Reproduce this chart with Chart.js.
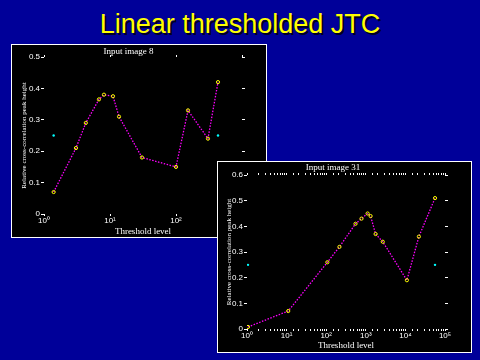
<!DOCTYPE html>
<html>
<head>
<meta charset="utf-8">
<script src="https://cdn.jsdelivr.net/npm/chart.js@4"></script>
<style>
  body { margin: 0; width: 480px; height: 360px; background: #000099; overflow: hidden; position: relative; font-family: "Liberation Sans", Arial, sans-serif; }
  #head { position: absolute; left: 0; top: 8px; width: 480px; text-align: center; color: #ffff00; font-size: 27px; line-height: 32px; text-shadow: 2px 2px 0 #000022; }
  .box { position: absolute; background: #000; border: 1px solid #fff; }
  #b1 { left: 11px; top: 44px; width: 254px; height: 192px; }
  #b2 { left: 217px; top: 161px; width: 253px; height: 190px; }
</style>
</head>
<body>
<div id="head">Linear thresholded JTC</div>
<div class="box" id="b1"><canvas id="chart8"></canvas></div>
<div class="box" id="b2"><canvas id="chart31"></canvas></div>
<script>
// input image 8
const thr8  = [1.4, 3.05, 4.3, 6.8, 8.1, 11.1, 13.7, 30.5, 100, 152, 305, 433];
const peak8 = [0.07, 0.21, 0.29, 0.365, 0.38, 0.375, 0.31, 0.18, 0.15, 0.33, 0.24, 0.42];
const ref8X = [1.4, 433];
const ref8Y = [0.25, 0.25];

// input image 31
const thr31  = [1.06, 11, 107, 216, 550, 780, 1110, 1320, 1770, 2680, 10900, 21900, 56000];
const peak31 = [0.008, 0.07, 0.26, 0.32, 0.41, 0.43, 0.45, 0.44, 0.37, 0.34, 0.19, 0.36, 0.51];
const ref31X = [1.06, 56000];
const ref31Y = [0.25, 0.25];

const supDigits = ['⁰','¹','²','³','⁴','⁵','⁶','⁷','⁸','⁹'];

function isDecade(v) {
  const l = Math.log10(v);
  return Math.abs(l - Math.round(l)) < 1e-9;
}
function decadeLabel(v) {
  if (!isDecade(v)) return '';
  return '10' + String(Math.round(Math.log10(v))).split('').map(d => supDigits[d]).join('');
}
function pts(xs, ys) {
  return xs.map((x, i) => ({x: x, y: ys[i]}));
}

const tickFont = {family: 'Liberation Sans', size: 8};
const labelFont = {family: 'Liberation Serif', size: 9, lineHeight: 1, weight: 'normal'};

function makeChart(id, title, xs, ys, rx, ry, o) {
  return new Chart(document.getElementById(id), {
    type: 'scatter',
    data: {
      datasets: [
        {
          data: pts(xs, ys),
          showLine: true,
          borderColor: '#ff00ff',
          borderWidth: 1.3,
          borderDash: [1.5, 1.5],
          pointRadius: 1.6,
          pointBorderWidth: 1,
          pointBorderColor: '#ffff00',
          pointBackgroundColor: 'rgba(0,0,0,0)',
        },
        {
          data: pts(rx, ry),
          showLine: false,
          pointRadius: 1.2,
          pointBorderWidth: 0,
          pointBackgroundColor: '#00ffff',
        }
      ]
    },
    options: {
      responsive: true,
      maintainAspectRatio: false,
      animation: false,
      layout: {padding: {top: o.padTop, right: o.padRight, left: 0, bottom: 0}},
      plugins: {
        legend: {display: false},
        tooltip: {enabled: false},
        title: {
          display: true,
          text: title,
          color: '#fff',
          font: labelFont,
          padding: {top: 0, bottom: 0}
        }
      },
      scales: {
        x: {
          type: 'logarithmic',
          position: 'bottom',
          min: o.xMin,
          max: o.xMax,
          ticks: {color: '#fff', font: tickFont, autoSkip: false, maxRotation: 0, padding: 0, callback: v => decadeLabel(v)},
          grid: {drawOnChartArea: false, tickLength: 2, tickColor: c => (o.minor || (c.tick && isDecade(c.tick.value))) ? '#fff' : 'rgba(0,0,0,0)'},
          border: {display: false},
          title: {display: true, text: 'Threshold level', color: '#fff', font: labelFont, padding: {top: 0, bottom: o.xTitlePad}},
          afterFit: s => { s.height = o.xHeight; }
        },
        xTop: {
          type: 'logarithmic',
          position: 'top',
          min: o.xMin,
          max: o.xMax,
          ticks: {autoSkip: false, maxRotation: 0, padding: 0, callback: () => ''},
          grid: {drawOnChartArea: false, tickLength: 2, tickColor: c => (o.minor || (c.tick && isDecade(c.tick.value))) ? '#fff' : 'rgba(0,0,0,0)'},
          border: {display: false},
          afterFit: s => { s.height = o.topHeight; }
        },
        y: {
          min: 0,
          max: o.yMax,
          ticks: {stepSize: 0.1, color: '#fff', font: tickFont, padding: 1, callback: v => v === 0 ? '0' : v.toFixed(1)},
          grid: {drawOnChartArea: false, tickLength: 3, tickColor: '#fff'},
          border: {display: false},
          title: {display: true, text: 'Relative cross-correlation peak height', color: '#fff', font: {family: 'Liberation Serif', size: 7, lineHeight: 1}, padding: {top: o.yTitlePad, bottom: 0}},
          afterFit: s => { s.width = o.yWidth; }
        },
        yRight: {
          position: 'right',
          min: 0,
          max: o.yMax,
          ticks: {stepSize: 0.1, padding: 0, callback: () => ''},
          grid: {drawOnChartArea: false, tickLength: 3, tickColor: '#fff'},
          border: {display: false},
          afterFit: s => { s.width = 3; }
        }
      }
    }
  });
}

makeChart('chart8', 'Input image 8', thr8, peak8, ref8X, ref8Y, {
  xMin: 1, xMax: 1000, yMax: 0.5, padTop: 2, padRight: 21,
  xHeight: 23, topHeight: 1, yWidth: 32, yTitlePad: 9, xTitlePad: 1, minor: false
});

makeChart('chart31', 'Input image 31', thr31, peak31, ref31X, ref31Y, {
  xMin: 1, xMax: 100000, yMax: 0.6, padTop: 1, padRight: 23,
  xHeight: 23, topHeight: 3, yWidth: 29, yTitlePad: 8, xTitlePad: 2, minor: true
});
</script>
</body>
</html>
